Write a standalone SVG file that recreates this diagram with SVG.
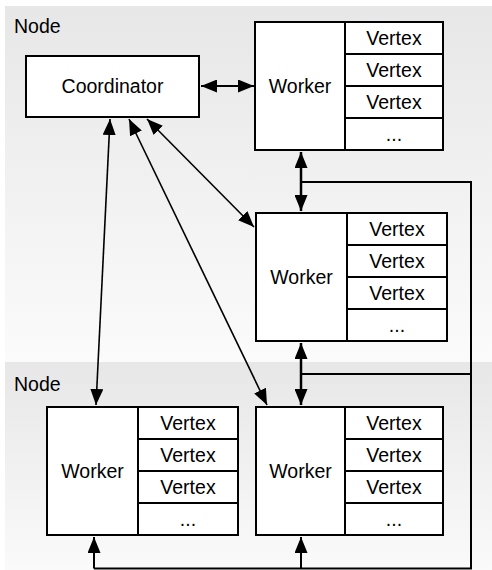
<svg xmlns="http://www.w3.org/2000/svg" width="492" height="570" viewBox="0 0 492 570">
<defs>
<linearGradient id="g1" x1="0" y1="0" x2="0" y2="1">
<stop offset="0" stop-color="#e7e7e7"/>
<stop offset="1" stop-color="#fbfbfb"/>
</linearGradient>
<linearGradient id="g2" x1="0" y1="0" x2="0" y2="1">
<stop offset="0" stop-color="#e7e7e7"/>
<stop offset="1" stop-color="#fafafa"/>
</linearGradient>
<marker id="ah" markerUnits="userSpaceOnUse" markerWidth="16" markerHeight="13" viewBox="0 0 16 13" refX="16" refY="6.5" orient="auto-start-reverse">
<path d="M0,0 L16,6.5 L0,13 z" fill="#000"/>
</marker>
</defs>
<style>
.box{fill:#fff;stroke:#000;stroke-width:2}
.t{font-family:"Liberation Sans",Arial,sans-serif;font-size:19.5px;fill:#000;text-anchor:middle}
.lbl{font-family:"Liberation Sans",Arial,sans-serif;font-size:19.5px;fill:#000}
.c{fill:none;stroke:#000;stroke-width:1.6}
.ct{fill:none;stroke:#000;stroke-width:2.5}
.a{marker-start:url(#ah);marker-end:url(#ah)}
.ae{marker-end:url(#ah)}
</style>
<rect width="492" height="570" fill="#fff"/>
<g id="node1">
<rect x="5" y="6" width="487" height="356" fill="url(#g1)"/>
<text class="lbl" x="14" y="33">Node</text>
</g>
<g id="node2">
<rect x="5" y="362" width="487" height="208" fill="url(#g2)"/>
<text class="lbl" x="14" y="391">Node</text>
</g>
<g id="coordinator">
<rect class="box" x="26" y="56" width="173" height="61"/>
<text class="t" x="112.5" y="93">Coordinator</text>
</g>
<g id="worker1">
<rect class="box" x="255" y="22" width="188" height="128"/>
<path class="box" d="M345,22 V150 M345,54 H443 M345,86 H443 M345,118 H443"/>
<text class="t" x="300" y="93">Worker</text>
<text class="t" x="394" y="45">Vertex</text>
<text class="t" x="394" y="77">Vertex</text>
<text class="t" x="394" y="109">Vertex</text>
<text class="t" x="394" y="141">...</text>
</g>
<g id="worker2">
<rect class="box" x="256" y="213" width="191" height="128"/>
<path class="box" d="M347,213 V341 M347,245 H447 M347,277 H447 M347,309 H447"/>
<text class="t" x="301.5" y="284">Worker</text>
<text class="t" x="397" y="236">Vertex</text>
<text class="t" x="397" y="268">Vertex</text>
<text class="t" x="397" y="300">Vertex</text>
<text class="t" x="397" y="332">...</text>
</g>
<g id="worker3">
<rect class="box" x="47" y="407" width="191" height="128"/>
<path class="box" d="M138,407 V535 M138,439 H238 M138,471 H238 M138,503 H238"/>
<text class="t" x="92.5" y="478">Worker</text>
<text class="t" x="188" y="430">Vertex</text>
<text class="t" x="188" y="462">Vertex</text>
<text class="t" x="188" y="494">Vertex</text>
<text class="t" x="188" y="526">...</text>
</g>
<g id="worker4">
<rect class="box" x="256" y="407" width="187" height="128"/>
<path class="box" d="M345,407 V535 M345,439 H443 M345,471 H443 M345,503 H443"/>
<text class="t" x="300.5" y="478">Worker</text>
<text class="t" x="394" y="430">Vertex</text>
<text class="t" x="394" y="462">Vertex</text>
<text class="t" x="394" y="494">Vertex</text>
<text class="t" x="394" y="526">...</text>
</g>
<g id="connectors">
<line class="ct a" x1="201" y1="86" x2="254" y2="86" style="stroke-width:2"/>
<line class="c a" x1="110" y1="119" x2="96" y2="405"/>
<line class="c a" x1="129" y1="119" x2="267" y2="405"/>
<line class="c a" x1="147" y1="119" x2="254" y2="227"/>
<line class="ct a" x1="301" y1="152" x2="301" y2="211"/>
<line class="ct a" x1="301" y1="343" x2="301" y2="405"/>
<polyline class="ct" points="301,182 471,182 471,568.5 94,568.5" style="stroke-width:2"/>
<line class="ct" x1="301" y1="374" x2="471" y2="374" style="stroke-width:2"/>
<line class="ct ae" x1="94" y1="568.5" x2="94" y2="537" style="stroke-width:2"/>
<line class="ct ae" x1="301" y1="568.5" x2="301" y2="537" style="stroke-width:2"/>
</g>
</svg>
